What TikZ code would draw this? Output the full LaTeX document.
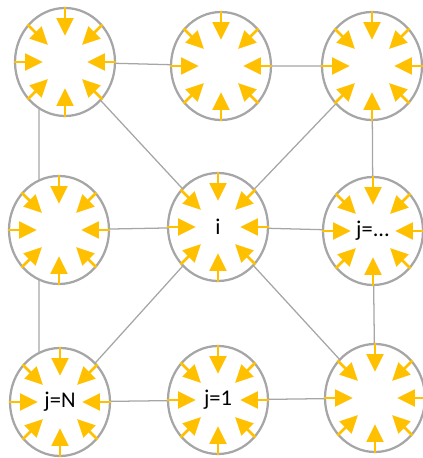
\documentclass[tikz,border=0pt]{standalone}
\usepackage{fontspec}
\setmainfont{Carlito}
\usetikzlibrary{shapes.geometric, calc, arrows.meta, backgrounds}
\definecolor{cellgray}{HTML}{A6A6A6}
\definecolor{flowgold}{HTML}{FFC000}

\begin{document}
\begin{tikzpicture}[font=\fontsize{16}{18}\selectfont]
	\tikzset{cell/.style={ellipse, draw=cellgray, line width=1.6pt, fill=white, minimum width=2.5cm, minimum height=2.7cm, inner sep=0pt},
		inflow/.style={draw=flowgold, line width=1.9pt, -{Triangle[length=0.44cm, width=0.42cm]}},
		link/.style={draw=cellgray, line width=0.9pt}}
	\useasboundingbox (0,0) rectangle (10.575,11.45);
	\node[cell] (a) at (1.625,9.9) {};
	\node[cell] (b) at (5.525,9.8) {};
	\node[cell] (c) at (9.3,9.8) {};
	\node[cell] (d) at (1.475,5.7) {};
	\node[cell] (i) at (5.45,5.775) {i};
	\node[cell] (jdots) at (9.325,5.675) {j=...};
	\node[cell] (jN) at (1.5,1.4) {j=N};
	\node[cell] (j1) at (5.45,1.45) {j=1};
	\node[cell] (e) at (9.375,1.5) {};
	\begin{scope}[on background layer]
		\path[link]
			(a.center) -- (b.center) -- (c.center)
			(a.center) -- (i.center) -- (c.center)
			(d.center) -- (i.center) -- (jdots.center)
			(jN.center) -- (i.center) -- (e.center)
			(jN.center) -- (j1.center) -- (e.center)
			(c.center) -- (jdots.center) -- (e.center)
			([xshift=-0.5cm]d.center |- a.center) -- ([xshift=-0.5cm]d.center) -- ([xshift=-0.5cm]d.center |- jN.center);
	\end{scope}
	\foreach \n in {a,b,c,d,i,jdots,jN,j1,e}
		\foreach \a in {0,45,...,315}
			\draw[inflow] (\n.\a) -- ($(\n.\a)!0.72cm!(\n.center)$);
\end{tikzpicture}
\end{document}
